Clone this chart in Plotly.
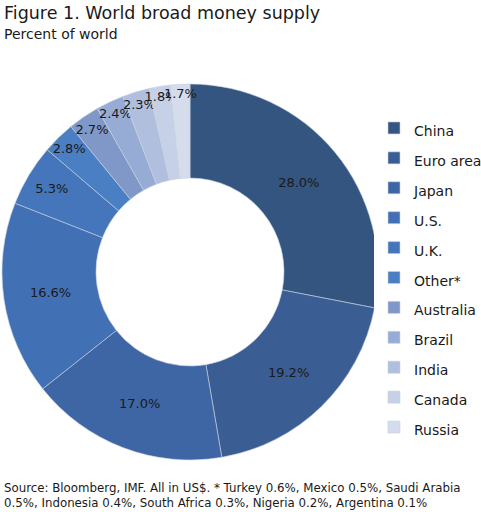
import plotly.graph_objects as go

# Share of world broad money supply, percent
countries = ["China", "Euro area", "Japan", "U.S.", "U.K.", "Other*",
             "Australia", "Brazil", "India", "Canada", "Russia"]
shares = [28.0, 19.2, 17.0, 16.6, 5.3, 2.8, 2.7, 2.4, 2.3, 1.8, 1.7]

slice_colors = ["#34557f", "#3a5e94", "#3e66a4", "#4270b4", "#4575bb", "#4a7fc4",
                "#7f98c8", "#97acd4", "#afbfdd", "#c6d0e6", "#d5dceb"]

title_text = "Figure 1. World broad money supply"
subtitle_text = "Percent of world"
source_text = ("Source: Bloomberg, IMF. All in US$. * Turkey 0.6%, Mexico 0.5%, Saudi Arabia<br>"
               "0.5%, Indonesia 0.4%, South Africa 0.3%, Nigeria 0.2%, Argentina 0.1%")

W, H = 481, 512
FONT = "DejaVu Sans"

fig = go.Figure(go.Pie(
    labels=["<span style='font-size:14px'>" + c + "</span>" for c in countries],
    values=shares,
    sort=False,
    direction="clockwise",
    rotation=0,
    hole=0.5,
    marker=dict(colors=slice_colors, line=dict(color="#c8d0e0", width=0.6)),
    texttemplate="%{value:.1f}%",
    textposition="inside",
    insidetextorientation="horizontal",
    textfont=dict(family=FONT, size=13, color="#1a1a1a"),
    domain=dict(x=[2 / W, 378 / W], y=[1 - 460 / H, 1 - 84 / H]),
    hoverinfo="label+value",
))

fig.update_layout(
    width=W, height=H,
    margin=dict(l=0, r=0, t=0, b=0, autoexpand=False),
    paper_bgcolor="white",
    font=dict(family=FONT, color="#1a1a1a"),
    uniformtext=dict(minsize=13, mode="show"),
    legend=dict(
        x=374 / W, y=1 - 108 / H, xanchor="left", yanchor="top",
        font=dict(size=20.7, family=FONT, color="#1a1a1a"),
        itemwidth=30,
    ),
    annotations=[
        dict(text=title_text, x=2 / W, y=1 - 13 / H, xref="paper", yref="paper",
             xanchor="left", yanchor="middle", showarrow=False,
             font=dict(size=17.5, family=FONT)),
        dict(text=subtitle_text, x=2 / W, y=1 - 34 / H, xref="paper", yref="paper",
             xanchor="left", yanchor="middle", showarrow=False,
             font=dict(size=14, family=FONT)),
        dict(text=source_text, x=2 / W, y=1 - 495 / H, xref="paper", yref="paper",
             xanchor="left", yanchor="middle", align="left", showarrow=False,
             font=dict(size=11.8, family=FONT)),
    ],
)

fig.write_html("out.html", config={"displayModeBar": False},
               post_script="document.body.style.margin = '0';")
